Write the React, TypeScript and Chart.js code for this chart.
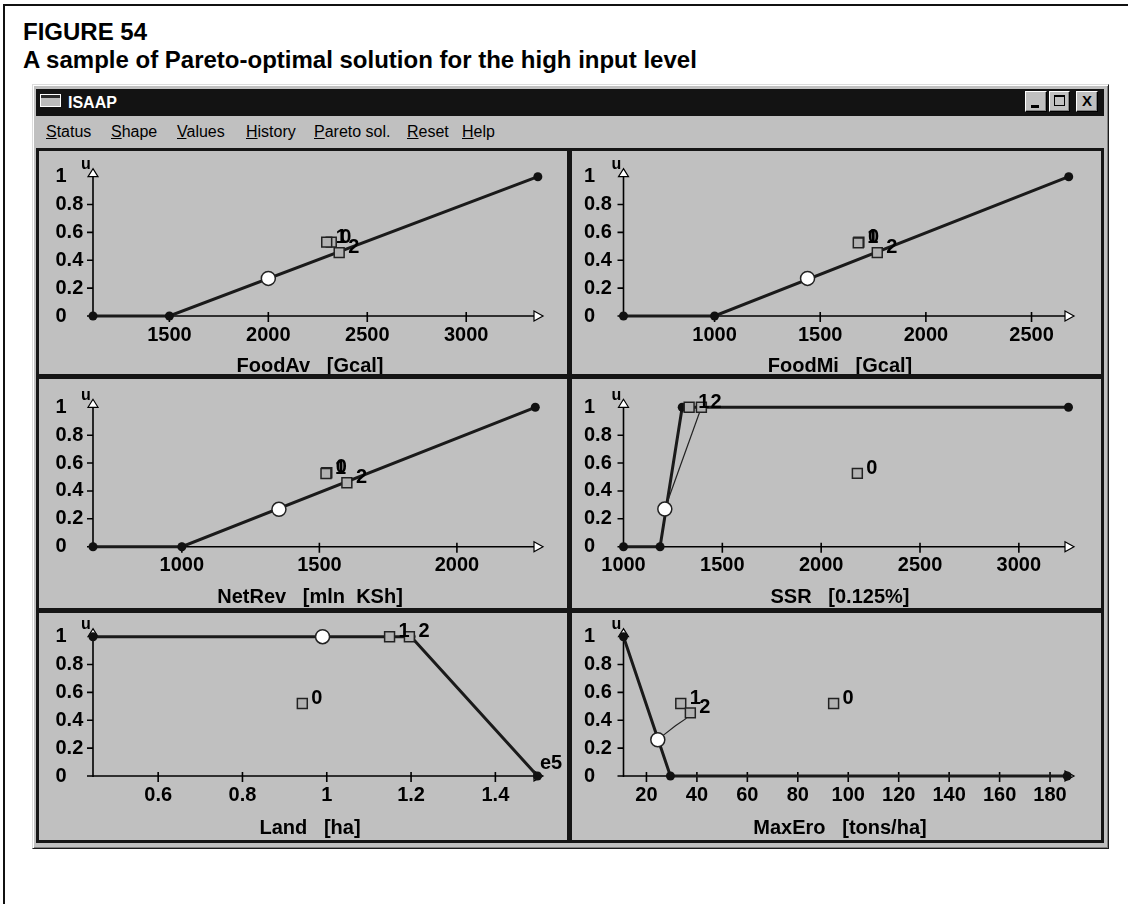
import React, { useEffect, useRef } from "react";
import { Chart, registerables } from "chart.js";

Chart.register(...registerables);

const FONT = '"Liberation Sans", Arial, Helvetica, sans-serif';

// ---------- shared axis data ----------
const uTicks = [0, 0.2, 0.4, 0.6, 0.8, 1];
const uTickLabels = ["0", "0.2", "0.4", "0.6", "0.8", "1"];
const paretoLabels = ["0", "1", "2"];

// ---------- FoodAv ----------
const foodAvTitle = "FoodAv   [Gcal]";
const foodAvRange = [1114, 3388];
const foodAvTicks = [1500, 2000, 2500, 3000];
const foodAvTickLabels = ["1500", "2000", "2500", "3000"];
const foodAvCurveX = [1114, 1500, 3362];
const foodAvCurveY = [0, 0, 1];
const foodAvSolution = [2000, 0.27];
const foodAvParetoX = [2318, 2295, 2358];
const foodAvParetoY = [0.53, 0.53, 0.455];

// ---------- FoodMi ----------
const foodMiTitle = "FoodMi   [Gcal]";
const foodMiRange = [569, 2701];
const foodMiTicks = [1000, 1500, 2000, 2500];
const foodMiTickLabels = ["1000", "1500", "2000", "2500"];
const foodMiCurveX = [569, 1000, 2676];
const foodMiCurveY = [0, 0, 1];
const foodMiSolution = [1440, 0.27];
const foodMiParetoX = [1683, 1680, 1770];
const foodMiParetoY = [0.53, 0.525, 0.455];

// ---------- NetRev ----------
const netRevTitle = "NetRev   [mln  KSh]";
const netRevRange = [677, 2313];
const netRevTicks = [1000, 1500, 2000];
const netRevTickLabels = ["1000", "1500", "2000"];
const netRevCurveX = [677, 1000, 2285];
const netRevCurveY = [0, 0, 1];
const netRevSolution = [1353, 0.268];
const netRevParetoX = [1527, 1524, 1600];
const netRevParetoY = [0.53, 0.525, 0.459];

// ---------- SSR ----------
const ssrTitle = "SSR   [0.125%]";
const ssrRange = [1000, 3279];
const ssrTicks = [1000, 1500, 2000, 2500, 3000];
const ssrTickLabels = ["1000", "1500", "2000", "2500", "3000"];
const ssrCurveX = [1000, 1185, 1297, 3251];
const ssrCurveY = [0, 0, 1, 1];
const ssrSolution = [1209, 0.27];
const ssrParetoX = [2183, 1332, 1394];
const ssrParetoY = [0.526, 1, 1];
const ssrPathX = [1209, 1394];
const ssrPathY = [0.27, 1];

// ---------- Land ----------
const landTitle = "Land   [ha]";
const landRange = [0.4454, 1.513];
const landTicks = [0.6, 0.8, 1, 1.2, 1.4];
const landTickLabels = ["0.6", "0.8", "1", "1.2", "1.4"];
const landCurveX = [0.4454, 1.2, 1.5];
const landCurveY = [1, 1, 0];
const landSolution = [0.99, 1];
const landParetoX = [0.942, 1.149, 1.196];
const landParetoY = [0.52, 1, 1];
const landUnit = "e5";

// ---------- MaxEro ----------
const maxEroTitle = "MaxEro   [tons/ha]";
const maxEroRange = [10.9, 189.5];
const maxEroTicks = [20, 40, 60, 80, 100, 120, 140, 160, 180];
const maxEroTickLabels = ["20", "40", "60", "80", "100", "120", "140", "160", "180"];
const maxEroCurveX = [10.9, 29.5, 186.8];
const maxEroCurveY = [1, 0, 0];
const maxEroSolution = [24.5, 0.26];
const maxEroParetoX = [94.2, 33.6, 37.4];
const maxEroParetoY = [0.52, 0.52, 0.453];
const maxEroPathX = [26.5, 31.5, 35.5, 37.4];
const maxEroPathY = [0.29, 0.36, 0.41, 0.453];

// ---------- layout (pixels, not data) ----------
const COLS = [
  { left: 39, width: 528, labelLeft: 55.5, axisX: 93, arrowX: 543, titleX: 310 },
  { left: 572, width: 529, labelLeft: 584, axisX: 623.5, arrowX: 1074, titleX: 840 },
];
const ROWS = [
  { top: 151, height: 223, y1: 176.7, y0: 316, titleY: 366 },
  { top: 379, height: 229, y1: 407.3, y0: 546.7, titleY: 597 },
  { top: 613, height: 227, y1: 636.7, y0: 776, titleY: 828 },
];

type PanelDef = {
  title: string;
  range: number[];
  ticks: number[];
  tickLabels: string[];
  curveX: number[];
  curveY: number[];
  solution: number[];
  paretoX: number[];
  paretoY: number[];
  pathX?: number[];
  pathY?: number[];
  unit?: string;
  col: number;
  row: number;
};

const panels: PanelDef[] = [
  { title: foodAvTitle, range: foodAvRange, ticks: foodAvTicks, tickLabels: foodAvTickLabels, curveX: foodAvCurveX, curveY: foodAvCurveY, solution: foodAvSolution, paretoX: foodAvParetoX, paretoY: foodAvParetoY, col: 0, row: 0 },
  { title: foodMiTitle, range: foodMiRange, ticks: foodMiTicks, tickLabels: foodMiTickLabels, curveX: foodMiCurveX, curveY: foodMiCurveY, solution: foodMiSolution, paretoX: foodMiParetoX, paretoY: foodMiParetoY, col: 1, row: 0 },
  { title: netRevTitle, range: netRevRange, ticks: netRevTicks, tickLabels: netRevTickLabels, curveX: netRevCurveX, curveY: netRevCurveY, solution: netRevSolution, paretoX: netRevParetoX, paretoY: netRevParetoY, col: 0, row: 1 },
  { title: ssrTitle, range: ssrRange, ticks: ssrTicks, tickLabels: ssrTickLabels, curveX: ssrCurveX, curveY: ssrCurveY, solution: ssrSolution, paretoX: ssrParetoX, paretoY: ssrParetoY, pathX: ssrPathX, pathY: ssrPathY, col: 1, row: 1 },
  { title: landTitle, range: landRange, ticks: landTicks, tickLabels: landTickLabels, curveX: landCurveX, curveY: landCurveY, solution: landSolution, paretoX: landParetoX, paretoY: landParetoY, unit: landUnit, col: 0, row: 2 },
  { title: maxEroTitle, range: maxEroRange, ticks: maxEroTicks, tickLabels: maxEroTickLabels, curveX: maxEroCurveX, curveY: maxEroCurveY, solution: maxEroSolution, paretoX: maxEroParetoX, paretoY: maxEroParetoY, pathX: maxEroPathX, pathY: maxEroPathY, col: 1, row: 2 },
];

const toPts = (xs: number[], ys: number[]) => xs.map((x, i) => ({ x, y: ys[i] }));

const isaapPlugin = {
  id: "isaap",
  beforeDatasetsDraw(chart: any, _args: any, opts: any) {
    const { ctx } = chart;
    const xs = chart.scales.x;
    const ys = chart.scales.y;
    const x0 = xs.getPixelForValue(xs.min);
    const xe = xs.getPixelForValue(xs.max);
    const y0 = ys.getPixelForValue(0);
    const y1 = ys.getPixelForValue(1);
    ctx.save();
    ctx.strokeStyle = "#000";
    ctx.lineWidth = 1.6;
    ctx.beginPath();
    ctx.moveTo(x0 - 6, y0);
    ctx.lineTo(xe - 9, y0);
    ctx.moveTo(x0, y0 + 1);
    ctx.lineTo(x0, y1);
    for (const t of ys.ticks) {
      if (t.value > 0 && t.value < 1) {
        const py = ys.getPixelForValue(t.value);
        ctx.moveTo(x0 - 6, py);
        ctx.lineTo(x0, py);
      }
    }
    for (const t of xs.ticks) {
      const px = xs.getPixelForValue(t.value);
      if (px > x0 + 2) {
        ctx.moveTo(px, y0 - 4);
        ctx.lineTo(px, y0 + 6);
      }
    }
    ctx.stroke();
    ctx.lineWidth = 1.2;
    ctx.fillStyle = "#ffffff";
    ctx.beginPath();
    ctx.moveTo(xe, y0);
    ctx.lineTo(xe - 9, y0 - 5);
    ctx.lineTo(xe - 9, y0 + 5);
    ctx.closePath();
    ctx.fill();
    ctx.stroke();
    ctx.beginPath();
    ctx.moveTo(x0, y1 - 8);
    ctx.lineTo(x0 - 5, y1);
    ctx.lineTo(x0 + 5, y1);
    ctx.closePath();
    ctx.fill();
    ctx.stroke();
    ctx.fillStyle = "#000";
    ctx.textAlign = "center";
    ctx.textBaseline = "middle";
    ctx.font = `bold 16px ${FONT}`;
    ctx.fillText("u", x0 - 7, y1 - 12);
    ctx.font = `bold 20px ${FONT}`;
    ctx.fillText(opts.title, opts.titleX, opts.titleY);
    ctx.restore();
  },
  afterDatasetsDraw(chart: any, _args: any, opts: any) {
    const { ctx } = chart;
    ctx.save();
    ctx.fillStyle = "#000";
    ctx.font = `bold 20px ${FONT}`;
    ctx.textAlign = "left";
    ctx.textBaseline = "middle";
    chart.data.datasets.forEach((ds: any, di: number) => {
      const labels = ds.pointLabels;
      if (!labels) return;
      const meta = chart.getDatasetMeta(di);
      meta.data.forEach((el: any, i: number) => {
        ctx.fillText(labels[i], el.x + 9, el.y - 5);
      });
    });
    if (opts.unit) {
      const xs = chart.scales.x;
      const ys = chart.scales.y;
      ctx.fillText(opts.unit, xs.getPixelForValue(xs.max) - 3, ys.getPixelForValue(0) - 13);
    }
    ctx.restore();
  },
};

function Panel({ p }: { p: PanelDef }) {
  const ref = useRef<HTMLCanvasElement>(null);
  const col = COLS[p.col];
  const row = ROWS[p.row];
  useEffect(() => {
    const datasets: any[] = [
      {
        label: "solution",
        data: toPts([p.solution[0]], [p.solution[1]]),
        showLine: false,
        pointRadius: 7,
        pointBackgroundColor: "#ffffff",
        pointBorderColor: "#222",
        pointBorderWidth: 1.5,
        clip: false,
        order: 0,
      },
      {
        label: "pareto",
        data: toPts(p.paretoX, p.paretoY),
        showLine: false,
        pointStyle: "rect",
        pointRadius: 7,
        pointBackgroundColor: "#b2b2b2",
        pointBorderColor: "#222",
        pointBorderWidth: 1.5,
        clip: false,
        order: 1,
        pointLabels: paretoLabels,
      },
      {
        label: "utility",
        data: toPts(p.curveX, p.curveY),
        showLine: true,
        borderColor: "#1a1a1a",
        borderWidth: 3,
        pointRadius: 4.5,
        pointBackgroundColor: "#111",
        pointBorderWidth: 0,
        clip: false,
        order: 3,
      },
    ];
    if (p.pathX && p.pathY) {
      datasets.push({
        label: "path",
        data: toPts(p.pathX, p.pathY),
        showLine: true,
        borderColor: "#222",
        borderWidth: 1.2,
        pointRadius: 0,
        clip: false,
        order: 2,
      });
    }
    const tickFont = { family: FONT, size: 20, weight: "bold" as const };
    const chart = new Chart(ref.current as HTMLCanvasElement, {
      type: "scatter",
      data: { datasets },
      options: {
        responsive: false,
        animation: false,
        events: [],
        layout: {
          padding: {
            left: col.labelLeft - col.left,
            right: col.left + col.width - col.arrowX,
            top: row.y1 - row.top,
            bottom: 0,
          },
        },
        plugins: {
          legend: { display: false },
          tooltip: { enabled: false },
          isaap: {
            title: p.title,
            titleX: col.titleX - col.left,
            titleY: row.titleY - row.top,
            unit: p.unit || "",
          },
        } as any,
        scales: {
          x: {
            type: "linear",
            position: "bottom",
            min: p.range[0],
            max: p.range[1],
            afterBuildTicks: (s: any) => {
              s.ticks = p.ticks.map((v) => ({ value: v }));
            },
            afterFit: (s: any) => {
              s.height = row.top + row.height - row.y0;
            },
            grid: { display: false, drawTicks: false },
            border: { display: false },
            ticks: {
              autoSkip: false,
              maxRotation: 0,
              minRotation: 0,
              padding: 7,
              color: "#000",
              font: tickFont,
              callback: (v: any) => {
                const i = p.ticks.indexOf(Number(v));
                return i >= 0 ? p.tickLabels[i] : String(v);
              },
            },
          },
          y: {
            type: "linear",
            min: 0,
            max: 1,
            afterBuildTicks: (s: any) => {
              s.ticks = uTicks.map((v) => ({ value: v }));
            },
            afterFit: (s: any) => {
              s.width = col.axisX - col.labelLeft;
            },
            grid: { display: false, drawTicks: false },
            border: { display: false },
            ticks: {
              autoSkip: false,
              crossAlign: "far",
              padding: 0,
              color: "#000",
              font: tickFont,
              callback: (v: any) => {
                const i = uTicks.indexOf(Number(v));
                return i >= 0 ? uTickLabels[i] : String(v);
              },
            },
          },
        },
      } as any,
      plugins: [isaapPlugin as any],
    });
    return () => chart.destroy();
  }, []);
  return (
    <canvas
      ref={ref}
      width={col.width}
      height={row.height}
      style={{ position: "absolute", left: col.left, top: row.top, width: col.width, height: row.height }}
    />
  );
}

const menuItems = [
  { first: "S", rest: "tatus", left: 46 },
  { first: "S", rest: "hape", left: 111 },
  { first: "V", rest: "alues", left: 177 },
  { first: "H", rest: "istory", left: 246 },
  { first: "P", rest: "areto sol.", left: 314 },
  { first: "R", rest: "eset", left: 407 },
  { first: "H", rest: "elp", left: 462 },
];

const btn = (left: number, width: number): React.CSSProperties => ({
  position: "absolute",
  left,
  top: 91,
  width,
  height: 21,
  boxSizing: "border-box",
  background: "#c0c0c0",
  borderTop: "1px solid #fff",
  borderLeft: "1px solid #fff",
  borderRight: "1px solid #000",
  borderBottom: "1px solid #000",
  boxShadow: "inset -1px -1px 0 #808080",
});

export default function App() {
  return (
    <div
      style={{
        position: "fixed",
        left: 0,
        top: 0,
        width: 1128,
        height: 904,
        background: "#fff",
        overflow: "hidden",
        fontFamily: FONT,
        color: "#000",
      }}
    >
      <div
        style={{
          position: "absolute",
          left: 3,
          top: 4,
          width: 1300,
          height: 1000,
          borderLeft: "2px solid #111",
          borderTop: "2px solid #111",
        }}
      />
      <div style={{ position: "absolute", left: 23, top: 20, fontSize: 24, lineHeight: "24px", fontWeight: 700, whiteSpace: "nowrap" }}>
        FIGURE 54
      </div>
      <div style={{ position: "absolute", left: 23, top: 48, fontSize: 24, lineHeight: "24px", fontWeight: 700, whiteSpace: "nowrap" }}>
        A sample of Pareto-optimal solution for the high input level
      </div>

      {/* window frame */}
      <div
        style={{
          position: "absolute",
          left: 32,
          top: 84,
          width: 1077,
          height: 765,
          boxSizing: "border-box",
          background: "#c0c0c0",
          borderTop: "1px solid #dcdcdc",
          borderLeft: "1px solid #dcdcdc",
          borderRight: "1px solid #1a1a1a",
          borderBottom: "1px solid #1a1a1a",
          boxShadow: "inset 1px 1px 0 #ffffff, inset -1px -1px 0 #808080",
        }}
      />
      {/* title bar */}
      <div style={{ position: "absolute", left: 36, top: 89, width: 1068, height: 27, background: "#131313" }} />
      <div
        style={{
          position: "absolute",
          left: 40,
          top: 94,
          width: 21,
          height: 13,
          boxSizing: "border-box",
          border: "1px solid #fff",
          background: "linear-gradient(#2a2a2a 0 3px, #bdbdbd 3px)",
        }}
      />
      <div
        style={{
          position: "absolute",
          left: 68,
          top: 89,
          height: 27,
          lineHeight: "27px",
          fontSize: 16,
          fontWeight: 700,
          color: "#fff",
        }}
      >
        ISAAP
      </div>
      <div style={btn(1025, 22)}>
        <div style={{ position: "absolute", left: 5, top: 13, width: 8, height: 3, background: "#000" }} />
      </div>
      <div style={btn(1049, 21)}>
        <div
          style={{
            position: "absolute",
            left: 4,
            top: 3,
            width: 11,
            height: 11,
            boxSizing: "border-box",
            border: "1px solid #000",
            borderTop: "2px solid #000",
          }}
        />
      </div>
      <div style={{ ...btn(1076, 22), textAlign: "center", fontSize: 15, fontWeight: 700, lineHeight: "18px" }}>X</div>

      {/* menu bar */}
      {menuItems.map((m, i) => (
        <div
          key={i}
          style={{
            position: "absolute",
            left: m.left,
            top: 124,
            fontSize: 16,
            lineHeight: "16px",
            whiteSpace: "nowrap",
          }}
        >
          <u>{m.first}</u>
          {m.rest}
        </div>
      ))}

      {/* panel grid */}
      <div style={{ position: "absolute", left: 36, top: 148, width: 1068, height: 695, background: "#151515" }} />
      {COLS.map((c, ci) =>
        ROWS.map((r, ri) => (
          <div
            key={`${ci}-${ri}`}
            style={{ position: "absolute", left: c.left, top: r.top, width: c.width, height: r.height, background: "#c0c0c0" }}
          />
        ))
      )}
      {panels.map((p, i) => (
        <Panel key={i} p={p} />
      ))}
    </div>
  );
}
